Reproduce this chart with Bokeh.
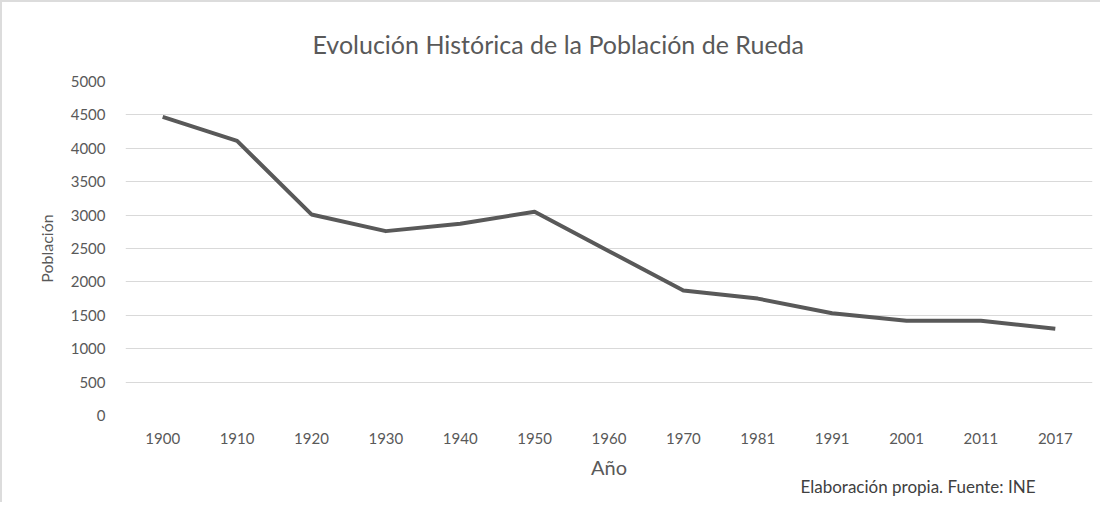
from bokeh.plotting import figure
from bokeh.models import Title, Range1d, FactorRange, FixedTicker
from bokeh.embed import file_html
from bokeh.resources import INLINE

years = ["1900", "1910", "1920", "1930", "1940", "1950", "1960",
         "1970", "1981", "1991", "2001", "2011", "2017"]
population = [4470, 4110, 3010, 2760, 2870, 3050, 2460,
              1870, 1750, 1530, 1420, 1420, 1300]
y_ticks = [0, 500, 1000, 1500, 2000, 2500, 3000, 3500, 4000, 4500, 5000]

title_text = "Evolución Histórica de la Población de Rueda"
x_title = "Año"
y_title = "Población"
source_note = "Elaboración propia. Fuente: INE"

FONT = "Lato"
GREY = "#595959"

p = figure(width=1100, height=502, output_backend="svg", toolbar_location=None,
           x_range=FactorRange(*years, range_padding=0), y_range=Range1d(0, 5000),
           min_border_left=123, min_border_right=10, min_border_top=79,
           min_border_bottom=89)
p.x_range.factor_padding = 0
p.outline_line_color = None
p.background_fill_color = "white"
p.border_fill_color = "white"
p.title = None

p.line(x=years, y=population, line_color=GREY, line_width=4, line_join="round")

p.yaxis.ticker = FixedTicker(ticks=y_ticks)
p.ygrid.ticker = FixedTicker(ticks=y_ticks)
p.ygrid.grid_line_color = "#d9d9d9"
p.ygrid.grid_line_width = 1
p.xgrid.grid_line_color = None

for ax in (p.xaxis, p.yaxis):
    ax.axis_line_color = None
    ax.major_tick_line_color = None
    ax.minor_tick_line_color = None
    ax.major_label_text_color = GREY
    ax.major_label_text_font = FONT
    ax.major_label_text_font_size = "15px"
    ax.axis_label_text_color = GREY
    ax.axis_label_text_font = FONT
    ax.axis_label_text_font_style = "normal"

p.yaxis.axis_label = y_title
p.yaxis.axis_label_text_font_size = "16px"
p.yaxis.major_label_standoff = 14
p.yaxis.axis_label_standoff = 12

p.xaxis.axis_label = x_title
p.xaxis.axis_label_text_font_size = "20px"
p.xaxis.major_label_standoff = 11
p.xaxis.axis_label_standoff = 8

p.add_layout(Title(text=title_text, align="left", offset=187,
                   text_font=FONT, text_font_size="25px", text_color=GREY,
                   text_font_style="normal", standoff=46), "above")
p.add_layout(Title(text=source_note, align="left", offset=675,
                   text_font=FONT, text_font_size="17px", text_color="#404040",
                   text_font_style="normal", standoff=-15), "below")

p.styles = {"border-top": "2px solid #dcdcdc", "border-left": "2px solid #dcdcdc"}

open("out.html", "w").write(file_html(p, INLINE))
